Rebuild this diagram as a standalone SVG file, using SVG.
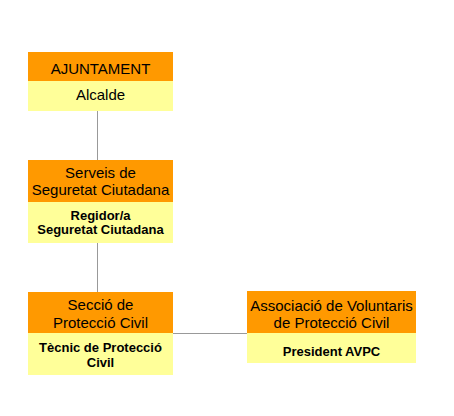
<svg xmlns="http://www.w3.org/2000/svg" width="454" height="416" viewBox="0 0 454 416">
<style>
.h{fill:#FF9900}
.s{fill:#FFFF99}
.t{font-family:"Liberation Sans",Arial,sans-serif;font-size:15px;fill:#000;text-anchor:middle}
.b{font-family:"Liberation Sans",Arial,sans-serif;font-size:13px;font-weight:bold;fill:#000;text-anchor:middle}
.c{stroke:#999;stroke-width:1;fill:none}
</style>
<rect width="454" height="416" fill="#fff"/>
<g id="connectors">
<line class="c" x1="97.5" y1="111" x2="97.5" y2="160"/>
<line class="c" x1="97.5" y1="243" x2="97.5" y2="292"/>
<line class="c" x1="173" y1="333.5" x2="247" y2="333.5"/>
</g>
<g id="ajuntament">
<rect class="h" x="28" y="52" width="145" height="29"/>
<rect class="s" x="28" y="81" width="145" height="30"/>
<text class="t" x="100.5" y="74">AJUNTAMENT</text>
<text class="t" x="100.5" y="100">Alcalde</text>
</g>
<g id="serveis">
<rect class="h" x="28" y="160" width="145" height="42"/>
<rect class="s" x="28" y="202" width="145" height="41"/>
<text class="t" x="100.5" y="178">Serveis de</text>
<text class="t" x="100.5" y="195">Seguretat Ciutadana</text>
<text class="b" x="100.5" y="220">Regidor/a</text>
<text class="b" x="100.5" y="234">Seguretat Ciutadana</text>
</g>
<g id="seccio">
<rect class="h" x="28" y="292" width="145" height="41"/>
<rect class="s" x="28" y="333" width="145" height="42"/>
<text class="t" x="100.5" y="310">Secció de</text>
<text class="t" x="100.5" y="328">Protecció Civil</text>
<text class="b" x="100.5" y="352">Tècnic de Protecció</text>
<text class="b" x="100.5" y="367">Civil</text>
</g>
<g id="associacio">
<rect class="h" x="247" y="291" width="169" height="42"/>
<rect class="s" x="247" y="333" width="169" height="30"/>
<text class="t" x="331.5" y="311">Associació de Voluntaris</text>
<text class="t" x="331.5" y="328">de Protecció Civil</text>
<text class="b" x="331.5" y="356">President AVPC</text>
</g>
</svg>
